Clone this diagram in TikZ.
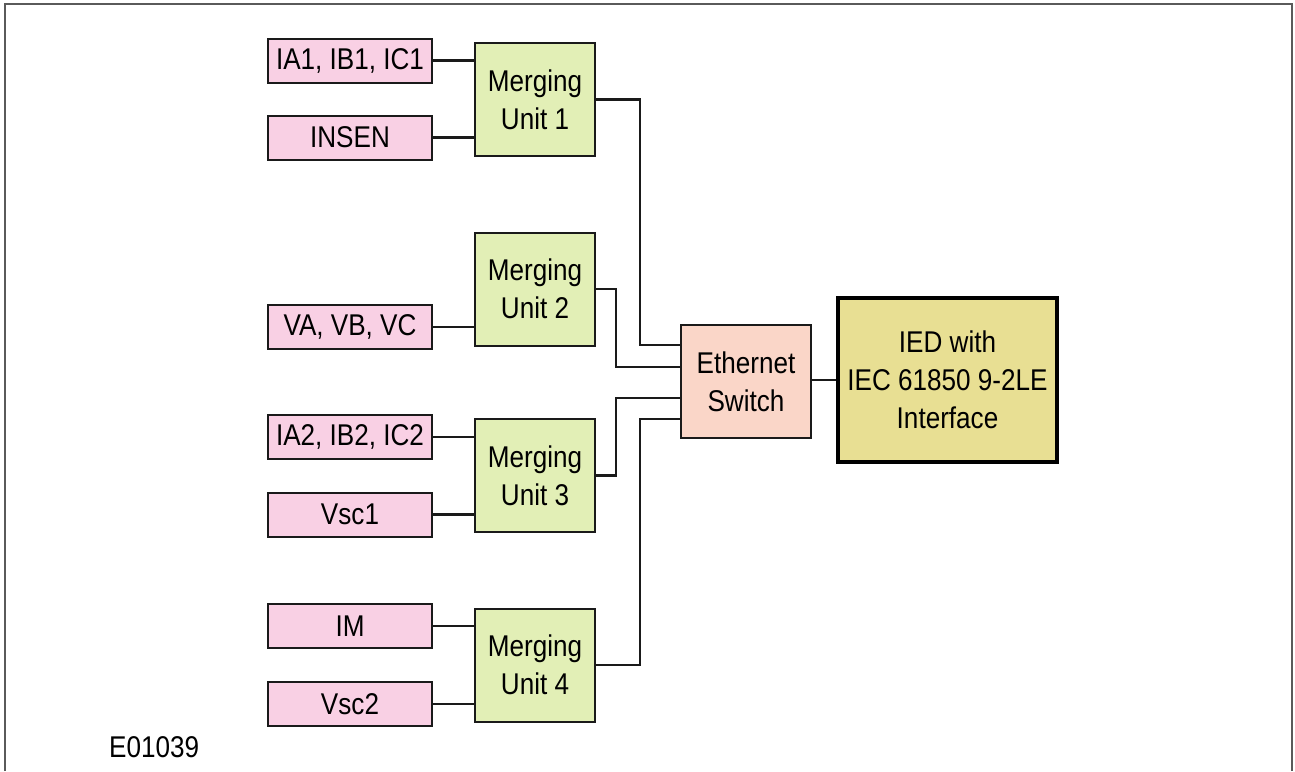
\documentclass[tikz,border=0pt]{standalone}
\usepackage{fontspec}
\newfontfamily\lblfont[FakeStretch=0.87]{Liberation Sans}
\usetikzlibrary{positioning}
\definecolor{srcPink}{HTML}{F9D0E4}
\definecolor{muGreen}{HTML}{E2EFB6}
\definecolor{swSalmon}{HTML}{FAD6C8}
\definecolor{iedGold}{HTML}{E8DF93}
\definecolor{frameGrey}{HTML}{5A5A5A}
\definecolor{edge}{HTML}{1A1A1A}
\tikzset{
  signal/.style={draw=edge, line width=2pt, fill=srcPink, minimum width=164pt,
                 minimum height=44pt, inner sep=0pt, align=center,
                 font=\lblfont\fontsize{30}{36}\selectfont},
  merger/.style={draw=edge, line width=2pt, fill=muGreen, minimum width=120pt,
                 minimum height=113pt, inner sep=0pt, align=center,
                 font=\lblfont\fontsize{30}{38}\selectfont},
  switchbox/.style={draw=edge, line width=2pt, fill=swSalmon, minimum width=130pt,
                 minimum height=113pt, inner sep=0pt, align=center,
                 font=\lblfont\fontsize{30}{38}\selectfont},
  iedbox/.style={draw=black, line width=3.6pt, fill=iedGold, minimum width=219pt,
                 minimum height=164pt, inner sep=0pt, align=center,
                 font=\lblfont\fontsize{30}{38}\selectfont},
  wire/.style={draw=edge, line width=2.4pt},
  tag/.style={font=\lblfont\fontsize{30}{36}\selectfont, inner sep=0pt}
}

\begin{document}
\begin{tikzpicture}[x=1pt,y=-1pt]
  \useasboundingbox (0,0) rectangle (1295,771);
  % frame, open at the bottom
  \draw[frameGrey, line width=2.4pt] (5,771) |- (1292,4) -- (1292,771);

  % measured inputs
  \node[signal] (ia1)   at (350,60.5)  {IA1, IB1, IC1};
  \node[signal] (insen) at (350,137.5) {INSEN};
  \node[signal] (va)    at (350,327)   {VA, VB, VC};
  \node[signal] (ia2)   at (350,437)   {IA2, IB2, IC2};
  \node[signal] (vsc1)  at (350,514.5) {Vsc1};
  \node[signal] (im)    at (350,626)   {IM};
  \node[signal] (vsc2)  at (350,704)   {Vsc2};

  % merging units
  \node[merger] (mu1) at (535,99.5) {Merging\\Unit 1};
  \node[merger] (mu2) at (535,289)  {Merging\\Unit 2};
  \node[merger] (mu3) at (535,475.5) {Merging\\Unit 3};
  \node[merger] (mu4) at (535,665)  {Merging\\Unit 4};

  \node[switchbox] (sw) at (746,381.5) {Ethernet\\Switch};
  \node[iedbox] (ied) at (947.5,380) {IED with\\IEC 61850 9-2LE\\Interface};

  \node[tag, anchor=base west] (fig) at (109,757) {E01039};

  \foreach \src/\mu in {ia1/mu1, insen/mu1, va/mu2, ia2/mu3, vsc1/mu3, im/mu4, vsc2/mu4}
    \draw[wire] (\src.east) -- (\src.east -| \mu.west);

  % bends of the links into the switch
  \coordinate (k1) at (640,345);
  \coordinate (k2) at (616,367);
  \coordinate (k3) at (616,398);
  \coordinate (k4) at (640,419);
  \foreach \mu/\k in {mu1/k1, mu2/k2, mu3/k3, mu4/k4}
    \draw[wire] (\mu.east) -| (\k) -- (\k -| sw.west);

  \draw[wire] (ied.west -| sw.east) -- (ied.west);
\end{tikzpicture}
\end{document}
